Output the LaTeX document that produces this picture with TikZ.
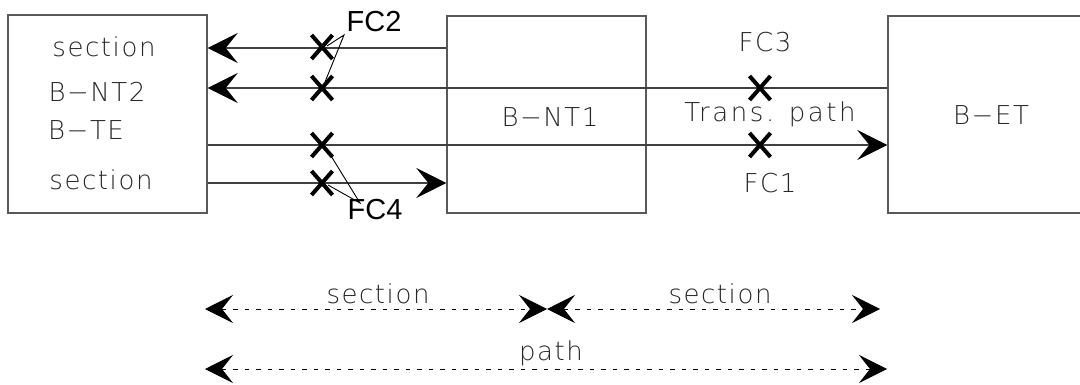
\documentclass[tikz,border=0pt]{standalone}
\usepackage{fontspec}
\usetikzlibrary{arrows.meta,shapes.misc}
\newfontfamily\cadfont{DejaVu Sans ExtraLight}[LetterSpace=6]
\newfontfamily\cadwidefont{DejaVu Sans ExtraLight}[LetterSpace=10]
\newfontfamily\fcfont{Liberation Sans}
\definecolor{boxgray}{gray}{0.35}
\definecolor{linegray}{gray}{0.25}
\definecolor{txtgray}{gray}{0.15}
\tikzset{
  box/.style={draw=boxgray, line width=1.4pt, rectangle, inner sep=0pt},
  cadtxt/.style={font=\cadfont\fontsize{26}{28}\selectfont, text=txtgray, inner sep=0pt, anchor=base},
  fctxt/.style={font=\fcfont\fontsize{29}{31}\selectfont, text=black, inner sep=0pt, anchor=base},
  sig/.style={draw=linegray, line width=1.3pt},
  cadtip/.style={-{Stealth[length=30pt,width=30pt,inset=12pt,color=black]}},
  xmark/.style={cross out, draw=black, line width=4pt, minimum width=17pt, minimum height=20pt, inner sep=0pt},
  leader/.style={draw=black, line width=0.9pt},
  dim/.style={draw=black, line width=1pt, dash pattern=on 4.5pt off 7pt, {Stealth[length=28pt,width=28pt,inset=11pt]}-{Stealth[length=28pt,width=28pt,inset=11pt]}},
}
\begin{document}
\begin{tikzpicture}[x=1pt,y=-1pt]
\useasboundingbox (0,0) rectangle (1080,385);
% boxes
\node[box, minimum width=199pt, minimum height=198pt] (L) at (107.5,114) {};
\node[box, minimum width=199pt, minimum height=197pt] (M) at (546.5,114.5) {};
\node[box, minimum width=210pt, minimum height=197pt] (R) at (993,114.5) {};
% texts in boxes
\node[cadtxt] (t1) at (104,57) {section};
\node[cadtxt] (t2) at (97,102) {B−NT2};
\node[cadtxt] (t3) at (86,140) {B−TE};
\node[cadtxt] (t4) at (101,190) {section};
\node[cadtxt] (t5) at (550,127) {B−NT1};
\node[cadtxt] (t6) at (991,125) {B−ET};
\node[cadtxt, font=\cadwidefont\fontsize{26}{28}\selectfont] (t7) at (770,122) {Trans. path};
\node[cadtxt] (fc3) at (765,52) {FC3};
\node[cadtxt] (fc1) at (770,193) {FC1};
% signal lines
\draw[sig, cadtip] (M.west |- 0,48) -- (L.east |- 0,48);
\draw[sig, cadtip] (R.west |- 0,88) -- (L.east |- 0,88);
\draw[sig, cadtip] (L.east |- 0,145) -- (R.west |- 0,145);
\draw[sig, cadtip] (L.east |- 0,183) -- (M.west |- 0,183);
% fault crosses
\node[xmark] (x1) at (322,47) {};
\node[xmark] (x2) at (322,88) {};
\node[xmark] (x3) at (322,145) {};
\node[xmark] (x4) at (322,183) {};
\node[xmark] (x5) at (760,88) {};
\node[xmark] (x6) at (760,145) {};
% FC2 / FC4 labels with leaders
\node[fctxt] (fc2) at (374,32) {FC2};
\node[fctxt] (fc4) at (375,220) {FC4};
\coordinate (p2) at (344,35);
\coordinate (p4) at (360,203);
\draw[leader] ([shift={(5,-1)}]x1.center) -- (p2) -- ([shift={(3,-6)}]x2.center);
\draw[leader] ([shift={(6,6)}]x3.center) -- (p4) -- ([shift={(6,2)}]x4.center);
% dimension lines
\coordinate (a1) at (205,309);
\coordinate (a2) at (547,309);
\coordinate (a3) at (880,309);
\coordinate (b1) at (205,369);
\coordinate (b2) at (887,369);
\draw[dim] (a1) -- (a2);
\draw[dim] (a2) -- (a3);
\draw[dim] (b1) -- (b2);
\node[cadtxt] (s1) at (378,303) {section};
\node[cadtxt] (s2) at (720,303) {section};
\node[cadtxt] (pth) at (551,360) {path};
\end{tikzpicture}
\end{document}
